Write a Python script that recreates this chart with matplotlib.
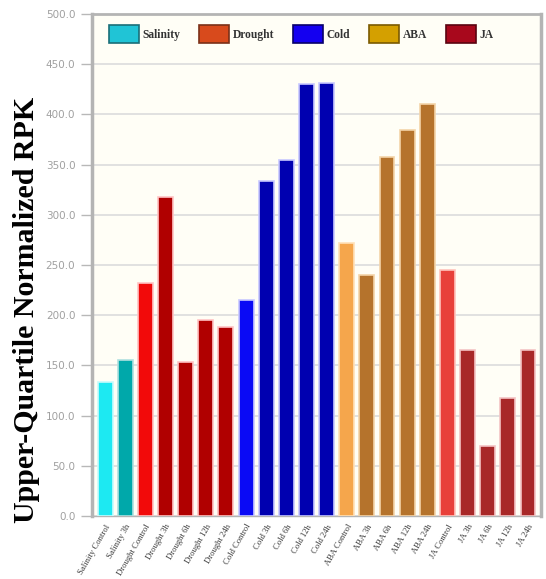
import matplotlib
matplotlib.use("Agg")
import matplotlib.pyplot as plt
from matplotlib.patches import Patch

# Sample labels and upper-quartile normalized RPK values
samples = [
    "Salinity Control", "Salinity 3h",
    "Drought Control", "Drought 3h", "Drought 6h", "Drought 12h", "Drought 24h",
    "Cold Control", "Cold 3h", "Cold 6h", "Cold 12h", "Cold 24h",
    "ABA Control", "ABA 3h", "ABA 6h", "ABA 12h", "ABA 24h",
    "JA Control", "JA 3h", "JA 6h", "JA 12h", "JA 24h",
]
values = [
    133, 155,
    232, 318, 153, 195, 188,
    215, 334, 355, 430, 431,
    272, 240, 358, 384, 410,
    245, 165, 70, 118, 165,
]
bar_colors = [
    "#1de9f2", "#00a8aa",
    "#f20a0a", "#b00000", "#b00000", "#b00000", "#b00000",
    "#0a0af5", "#0000b0", "#0000b0", "#0000b0", "#0000b0",
    "#f5a64c", "#b5732c", "#b5732c", "#b5732c", "#b5732c",
    "#e8403a", "#a82828", "#a82828", "#a82828", "#a82828",
]
edge_colors = [
    "#c8fbfc", "#b0e0e0",
    "#ffc4c4", "#ffc4c4", "#ffc4c4", "#ffc4c4", "#ffc4c4",
    "#c8c8ff", "#c8c8ff", "#c8c8ff", "#c8c8ff", "#c8c8ff",
    "#ffe0b8", "#f4d4a8", "#f4d4a8", "#f4d4a8", "#f4d4a8",
    "#ffc4bc", "#f4c4c4", "#f4c4c4", "#f4c4c4", "#f4c4c4",
]

# Legend groups
groups = ["Salinity", "Drought", "Cold", "ABA", "JA"]
group_colors = ["#20c4d6", "#d84a1c", "#1400f0", "#d4a000", "#a8081c"]
group_edges = ["#1a6e78", "#7a3018", "#08006a", "#7a5a00", "#5a0410"]

yticks = [0, 50, 100, 150, 200, 250, 300, 350, 400, 450, 500]

fig = plt.figure(figsize=(5.46, 5.79), dpi=100)
ax = fig.add_axes([0.1685, 0.1088, 0.8225, 0.867])
ax.set_facecolor("#fffef6")

x = list(range(len(samples)))
ax.bar(x, values, width=0.74, color=bar_colors, edgecolor=edge_colors,
       linewidth=1.2, zorder=3)

ax.set_xlim(-0.65, len(samples) - 0.35)
ax.set_ylim(0, 500)
ax.set_yticks(yticks)
ax.set_yticklabels([f"{v:.1f}" for v in yticks], color="#a0a0a0",
                   fontsize=7.5, family="DejaVu Sans")
ax.yaxis.grid(True, color="#dcdcdc", linewidth=1.2, zorder=0)
ax.tick_params(axis="y", length=8, color="#b8b8b8", width=1, pad=4)

ax.set_xticks(x)
ax.set_xticklabels(samples, rotation=60, ha="right", rotation_mode="anchor",
                   fontsize=6.2, family="Liberation Serif", color="#3a3a3a")
ax.tick_params(axis="x", length=0, pad=5)

for side in ["left", "right", "top", "bottom"]:
    ax.spines[side].set_color("#b4b4b4")
ax.spines["left"].set_linewidth(2.5)
ax.spines["right"].set_linewidth(2.5)
ax.spines["top"].set_linewidth(2.0)
ax.spines["bottom"].set_linewidth(1.0)

ax.set_ylabel("Upper-Quartile Normalized RPK", family="Liberation Serif",
              fontsize=21.5, fontweight="bold", color="black")
ax.yaxis.set_label_coords(-0.115, 0.41)

handles = [Patch(facecolor=c, edgecolor=e, linewidth=1.2, label=g)
           for g, c, e in zip(groups, group_colors, group_edges)]
leg = ax.legend(handles=handles, loc="upper left", ncol=5, frameon=False,
                bbox_to_anchor=(0.02, 0.995), handlelength=2.6, handleheight=2.1,
                handletextpad=0.3, columnspacing=1.65, borderaxespad=0.3,
                prop={"family": "Liberation Serif", "size": 8.3, "weight": "bold"})
for t in leg.get_texts():
    t.set_color("#333333")

fig.savefig("out.png", dpi=100, facecolor="white")
